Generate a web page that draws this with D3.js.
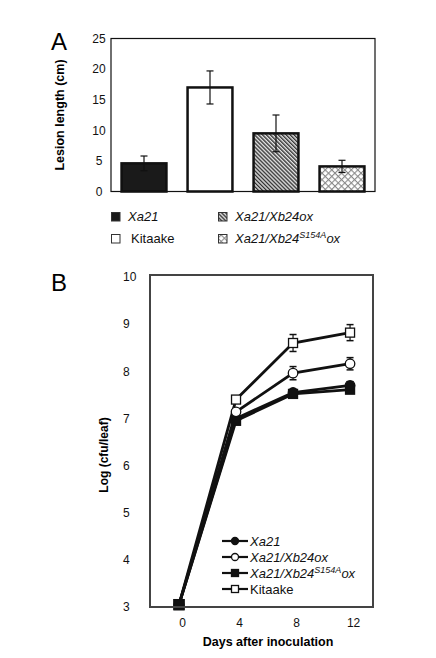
<!DOCTYPE html>
<html>
<head>
<meta charset="utf-8">
<script src="https://cdn.jsdelivr.net/npm/d3@7"></script>
<style>
  html, body { margin: 0; padding: 0; background: #fff; }
  svg { display: block; font-family: "Liberation Sans", Arial, sans-serif; }
</style>
</head>
<body>
<svg id="fig" width="436" height="658"></svg>
<script>
'use strict';

/* ── Panel A: lesion length ─────────────────────────────── */
const lesionLines  = ['Xa21', 'Kitaake', 'Xa21/Xb24ox', 'Xa21/Xb24S154Aox'];
const lesionMeans  = [4.6, 17.0, 9.5, 4.1];
const lesionErrors = [1.2, 2.7, 3.0, 1.0];
const lesionTicks  = [0, 5, 10, 15, 20, 25];

/* ── Panel B: bacterial growth ──────────────────────────── */
const days       = [0, 4, 8, 12];
const growXa21   = [3.05, 7.00, 7.55, 7.70];
const errXa21    = [0.05, 0.05, 0.06, 0.08];
const growXb24   = [3.05, 7.14, 7.96, 8.16];
const errXb24    = [0.05, 0.06, 0.14, 0.13];
const growS154A  = [3.05, 6.95, 7.52, 7.61];
const errS154A   = [0.05, 0.05, 0.05, 0.06];
const growKit    = [3.05, 7.40, 8.60, 8.82];
const errKit     = [0.05, 0.06, 0.18, 0.17];
const growTicksY = [3, 4, 5, 6, 7, 8, 9, 10];

const svg = d3.select('#fig');
const defs = svg.append('defs');

// fine diagonal stripes, "\" direction
const hatch = defs.append('pattern').attr('id', 'hatch')
  .attr('patternUnits', 'userSpaceOnUse').attr('width', 2.8).attr('height', 2.8)
  .attr('patternTransform', 'rotate(-45)');
hatch.append('rect').attr('width', 2.8).attr('height', 2.8).attr('fill', '#e2e2e2');
hatch.append('rect').attr('width', 1.3).attr('height', 2.8).attr('fill', '#2a2a2a');

// diamond lattice
const cross = defs.append('pattern').attr('id', 'cross')
  .attr('patternUnits', 'userSpaceOnUse').attr('width', 4.6).attr('height', 4.6)
  .attr('patternTransform', 'rotate(45)');
cross.append('rect').attr('width', 4.6).attr('height', 4.6).attr('fill', '#fff');
cross.append('rect').attr('width', 4.6).attr('height', 1.1).attr('fill', '#8a8a8a');
cross.append('rect').attr('width', 1.1).attr('height', 4.6).attr('fill', '#8a8a8a');

const barFill = ['#1a1a1a', '#fff', 'url(#hatch)', 'url(#cross)'];

/* ── A ──────────────────────────────────────────────────── */
const A = { left: 111, right: 375, top: 38.5, bottom: 191.5 };

const xA = d3.scaleBand().domain(lesionLines)
  .range([A.left, A.right]).paddingInner(0.32).paddingOuter(0.16);
const yA = d3.scaleLinear().domain([0, 25]).range([A.bottom, A.top]);

svg.append('text').attr('x', 51).attr('y', 50)
  .attr('font-size', 24).text('A');

const axA = svg.append('g').attr('transform', `translate(${A.left},0)`)
  .call(d3.axisLeft(yA).tickValues(lesionTicks).tickSize(0).tickFormat(d3.format('d')));
axA.select('.domain').remove();
axA.selectAll('text').attr('x', -12).attr('text-anchor', 'middle')
  .attr('font-size', 12).attr('font-family', '"Liberation Sans", Arial, sans-serif')
  .attr('fill', '#111');

svg.append('text')
  .attr('transform', `translate(64,${(A.top + A.bottom) / 2}) rotate(-90)`)
  .attr('text-anchor', 'middle').attr('font-size', 12.5).attr('font-weight', 'bold')
  .text('Lesion length (cm)');

svg.append('g').selectAll('rect').data(lesionLines).join('rect')
  .attr('x', d => xA(d)).attr('width', xA.bandwidth())
  .attr('y', (d, i) => yA(lesionMeans[i]))
  .attr('height', (d, i) => yA(0) - yA(lesionMeans[i]))
  .attr('fill', (d, i) => barFill[i])
  .attr('stroke', '#111').attr('stroke-width', 2.5);

const errA = svg.append('g').attr('stroke', '#111').attr('stroke-width', 1.2);
lesionLines.forEach((d, i) => {
  const cx = xA(d) + xA.bandwidth() / 2;
  const hi = yA(lesionMeans[i] + lesionErrors[i]);
  const lo = yA(lesionMeans[i] - lesionErrors[i]);
  errA.append('line').attr('x1', cx).attr('x2', cx).attr('y1', hi).attr('y2', lo);
  errA.append('line').attr('x1', cx - 3.5).attr('x2', cx + 3.5).attr('y1', hi).attr('y2', hi);
  errA.append('line').attr('x1', cx - 3.5).attr('x2', cx + 3.5).attr('y1', lo).attr('y2', lo);
});

svg.append('rect')
  .attr('x', A.left).attr('y', A.top)
  .attr('width', A.right - A.left).attr('height', A.bottom - A.top)
  .attr('fill', 'none').attr('stroke', '#111').attr('stroke-width', 1.2);

// legend A
function labelText(sel, name) {
  if (name === 'Kitaake') { sel.text(name); return; }
  sel.attr('font-style', 'italic');
  if (name.includes('S154A')) {
    sel.append('tspan').text('Xa21/Xb24');
    sel.append('tspan').attr('font-size', 9).attr('dy', -5).text('S154A');
    sel.append('tspan').attr('dy', 5).text('ox');
  } else {
    sel.text(name);
  }
}

const legA = [
  { name: 'Xa21', col: 0, row: 0, fill: barFill[0] },
  { name: 'Kitaake', col: 0, row: 1, fill: barFill[1] },
  { name: 'Xa21/Xb24ox', col: 1, row: 0, fill: barFill[2] },
  { name: 'Xa21/Xb24S154Aox', col: 1, row: 1, fill: barFill[3] },
];
legA.forEach(d => {
  const lx = d.col ? 218 : 111;
  const ly = d.row ? 234 : 212;
  svg.append('rect').attr('x', lx + 0.5).attr('y', ly + 0.5).attr('width', 8.5).attr('height', 8.5)
    .attr('fill', d.fill).attr('stroke', '#333').attr('stroke-width', 1);
  const t = svg.append('text').attr('x', lx + (d.name === 'Kitaake' ? 20 : 17))
    .attr('y', ly + 9).attr('font-size', 13).attr('fill', '#111');
  labelText(t, d.name);
});

/* ── B ──────────────────────────────────────────────────── */
const B = { left: 150, right: 373, top: 275, bottom: 607 };

const xB = d3.scaleLinear().domain([-2.035, 13.61]).range([B.left, B.right]);
const yB = d3.scaleLinear().domain([3, 10]).range([B.bottom, B.top + 2]);

svg.append('text').attr('x', 51).attr('y', 291)
  .attr('font-size', 24).text('B');

const axBy = svg.append('g').attr('transform', `translate(${B.left},0)`)
  .call(d3.axisLeft(yB).tickValues(growTicksY).tickSize(0).tickFormat(d3.format('d')));
axBy.select('.domain').remove();
axBy.selectAll('text').attr('x', -27).attr('text-anchor', 'start')
  .attr('font-size', 12).attr('font-family', '"Liberation Sans", Arial, sans-serif')
  .attr('fill', '#111');

const axBx = svg.append('g').attr('transform', `translate(0,${B.bottom})`)
  .call(d3.axisBottom(xB).tickValues(days).tickSize(0).tickPadding(11).tickFormat(d3.format('d')));
axBx.select('.domain').remove();
axBx.selectAll('text').attr('dx', 3)
  .attr('font-size', 12).attr('font-family', '"Liberation Sans", Arial, sans-serif')
  .attr('fill', '#111');

svg.append('text')
  .attr('transform', `translate(108,455) rotate(-90)`)
  .attr('text-anchor', 'middle').attr('font-size', 12).attr('font-weight', 'bold')
  .text('Log (cfu/leaf)');

svg.append('text').attr('x', 268).attr('y', 646)
  .attr('text-anchor', 'middle').attr('font-size', 12.5).attr('font-weight', 'bold')
  .text('Days after inoculation');

const series = [
  { name: 'Xa21/Xb24S154Aox', vals: growS154A, err: errS154A, shape: 'square', fill: '#111' },
  { name: 'Xa21', vals: growXa21, err: errXa21, shape: 'circle', fill: '#111' },
  { name: 'Kitaake', vals: growKit, err: errKit, shape: 'square', fill: '#fff' },
  { name: 'Xa21/Xb24ox', vals: growXb24, err: errXb24, shape: 'circle', fill: '#fff' },
];

const line = d3.line().x(d => xB(d[0])).y(d => yB(d[1]));

function marker(g, shape, cx, cy, size, fill) {
  if (shape === 'circle') {
    g.append('circle').attr('cx', cx).attr('cy', cy).attr('r', size / 2)
      .attr('fill', fill).attr('stroke', '#111').attr('stroke-width', 1.3);
  } else {
    g.append('rect').attr('x', cx - size / 2).attr('y', cy - size / 2)
      .attr('width', size).attr('height', size)
      .attr('fill', fill).attr('stroke', '#111').attr('stroke-width', 1.3);
  }
}

const plotB = svg.append('g');
series.forEach(s => {
  const pts = days.map((d, i) => [d, s.vals[i]]);
  plotB.append('path').datum(pts).attr('d', line)
    .attr('fill', 'none').attr('stroke', '#111').attr('stroke-width', 2.8);
});
days.forEach((d, i) => {
  // at day 0 the filled markers sit on top, later the open ones do
  const order = i === 0 ? series.slice().reverse() : series;
  order.forEach(s => {
    const g = plotB.append('g');
    const cx = xB(d);
    const hi = yB(s.vals[i] + s.err[i]);
    const lo = yB(s.vals[i] - s.err[i]);
    g.append('line').attr('x1', cx).attr('x2', cx).attr('y1', hi).attr('y2', lo)
      .attr('stroke', '#111').attr('stroke-width', 1.2);
    [hi, lo].forEach(y => g.append('line').attr('x1', cx - 3.5).attr('x2', cx + 3.5)
      .attr('y1', y).attr('y2', y).attr('stroke', '#111').attr('stroke-width', 1.5));
    marker(g, s.shape, cx, yB(s.vals[i]), s.shape === 'circle' ? 9.5 : (i === 0 ? 10 : 9), s.fill);
  });
});

svg.append('rect')
  .attr('x', B.left).attr('y', B.top)
  .attr('width', B.right - B.left).attr('height', B.bottom - B.top)
  .attr('fill', 'none').attr('stroke', '#444').attr('stroke-width', 2);

// legend B
const legB = [series[1], series[3], series[0], series[2]];
legB.forEach((s, i) => {
  const ly = 541 + i * 16;
  const g = svg.append('g');
  g.append('line').attr('x1', 222).attr('x2', 248).attr('y1', ly).attr('y2', ly)
    .attr('stroke', '#111').attr('stroke-width', 2.2);
  marker(g, s.shape, 235, ly, 7, s.fill);
  const t = g.append('text').attr('x', 250).attr('y', ly + 5)
    .attr('font-size', 13).attr('fill', '#111');
  labelText(t, s.name);
});
</script>
</body>
</html>
